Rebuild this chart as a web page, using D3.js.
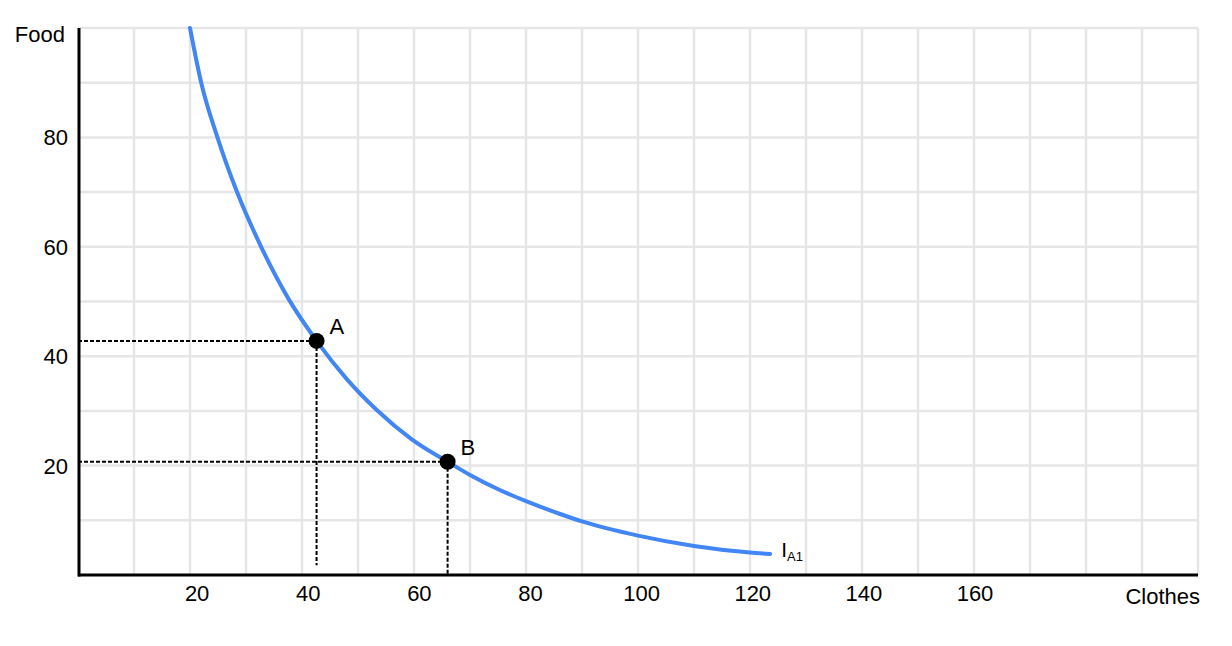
<!DOCTYPE html>
<html>
<head>
<meta charset="utf-8">
<script src="https://cdn.jsdelivr.net/npm/d3@7"></script>
<style>
  body { margin: 0; background: #fff; }
  text { font-family: "Liberation Sans", Arial, Helvetica, sans-serif; fill: #000; }
  .lbl { font-size: 22px; }
</style>
</head>
<body>
<div id="vis"></div>
<script>
// indifference curve I_A1 (clothes, food)
var curveX = [20, 22, 24.9, 28.4, 32.7, 37.7, 42.6, 48, 53.3, 59.6, 66, 70, 75.4, 80, 86.1, 90, 100, 110, 120, 123.6];
var curveY = [100, 90, 80, 70, 60, 50.3, 42.8, 35.8, 30.2, 24.8, 20.7, 18.3, 15.5, 13.5, 11.15, 9.8, 7.2, 5.3, 4.1, 3.85];

// bundles on the curve
var pointNames = ['A', 'B'];
var pointX = [42.6, 66];
var pointY = [42.8, 20.7];
var pointDropTo = [1.8, 0];

var xTickLabels = [20, 40, 60, 80, 100, 120, 140, 160];
var yTickLabels = [20, 40, 60, 80];

var margin = { left: 78, right: 34, top: 28, bottom: 71 };
var width = 1232, height = 646;
var drawWidth = width - margin.left - margin.right,
    drawHeight = height - margin.top - margin.bottom;

var svg = d3.select('#vis')
            .append('svg')
            .attr('width', width)
            .attr('height', height);

var xScale = d3.scaleLinear().domain([0, 200]).range([margin.left, margin.left + drawWidth]);
var yScale = d3.scaleLinear().domain([0, 100]).range([margin.top + drawHeight, margin.top]);
// tick labels in the source sit on a slightly different spacing than the grid
var xLabelScale = d3.scaleLinear().domain([0, 160]).range([86, 975]);

// grid
var grid = svg.append('g');
grid.selectAll('.vgrid')
    .data(d3.range(10, 201, 10))
    .enter()
    .append('line')
    .attr('x1', (d) => xScale(d))
    .attr('x2', (d) => xScale(d))
    .attr('y1', yScale(100))
    .attr('y2', yScale(0))
    .style('stroke', '#e6e6e6')
    .style('stroke-width', 2.5);
grid.selectAll('.hgrid')
    .data(d3.range(10, 101, 10))
    .enter()
    .append('line')
    .attr('x1', xScale(0))
    .attr('x2', xScale(200))
    .attr('y1', (d) => yScale(d))
    .attr('y2', (d) => yScale(d))
    .style('stroke', '#e6e6e6')
    .style('stroke-width', 2.5);

// dashed guides
var guides = svg.append('g')
                .style('stroke', '#000')
                .style('stroke-width', 2)
                .style('stroke-dasharray', '4,2');
pointNames.forEach(function(n, i) {
    guides.append('line')
          .attr('x1', xScale(0))
          .attr('x2', xScale(pointX[i]))
          .attr('y1', yScale(pointY[i]))
          .attr('y2', yScale(pointY[i]));
    guides.append('line')
          .attr('x1', xScale(pointX[i]))
          .attr('x2', xScale(pointX[i]))
          .attr('y1', yScale(pointY[i]))
          .attr('y2', yScale(pointDropTo[i]));
});

// curve
var line = d3.line()
             .x((d) => xScale(d[0]))
             .y((d) => yScale(d[1]))
             .curve(d3.curveMonotoneX);
var curveData = curveX.map((x, i) => [x, curveY[i]]);
svg.append('path')
   .datum(curveData)
   .attr('d', line)
   .style('fill', 'none')
   .style('stroke', '#4285f4')
   .style('stroke-width', 4)
   .style('stroke-linecap', 'round');

var last = curveData[curveData.length - 1];
var curveLabel = svg.append('text')
                    .attr('x', xScale(last[0]) + 11)
                    .attr('y', yScale(last[1]) + 3)
                    .style('font-size', '21px');
curveLabel.append('tspan').text('I');
curveLabel.append('tspan')
          .attr('dy', 4)
          .style('font-size', '13px')
          .text('A1');

// points
svg.selectAll('.pt')
   .data(pointNames)
   .enter()
   .append('circle')
   .attr('cx', (d, i) => xScale(pointX[i]))
   .attr('cy', (d, i) => yScale(pointY[i]))
   .attr('r', 8)
   .style('fill', '#000');
svg.selectAll('.ptlabel')
   .data(pointNames)
   .enter()
   .append('text')
   .attr('class', 'lbl')
   .attr('x', (d, i) => xScale(pointX[i]) + 13)
   .attr('y', (d, i) => yScale(pointY[i]) - 7)
   .text((d) => d);

// axes
svg.append('line')
   .attr('x1', xScale(0) + 1)
   .attr('x2', xScale(0) + 1)
   .attr('y1', yScale(100))
   .attr('y2', yScale(0) + 1.5)
   .style('stroke', '#000')
   .style('stroke-width', 3);
svg.append('line')
   .attr('x1', xScale(0))
   .attr('x2', xScale(200))
   .attr('y1', yScale(0))
   .attr('y2', yScale(0))
   .style('stroke', '#000')
   .style('stroke-width', 3);

svg.selectAll('.xlab')
   .data(xTickLabels)
   .enter()
   .append('text')
   .attr('class', 'lbl')
   .attr('x', (d) => xLabelScale(d))
   .attr('y', yScale(0) + 26)
   .style('text-anchor', 'middle')
   .text((d) => d);

svg.selectAll('.ylab')
   .data(yTickLabels)
   .enter()
   .append('text')
   .attr('class', 'lbl')
   .attr('x', 68)
   .attr('y', (d) => yScale(d))
   .attr('dy', '0.36em')
   .style('text-anchor', 'end')
   .text((d) => d);

svg.append('text')
   .attr('class', 'lbl')
   .attr('x', 65)
   .attr('y', 42)
   .style('text-anchor', 'end')
   .text('Food');

svg.append('text')
   .attr('class', 'lbl')
   .attr('x', 1200)
   .attr('y', 604)
   .style('text-anchor', 'end')
   .text('Clothes');
</script>
</body>
</html>
